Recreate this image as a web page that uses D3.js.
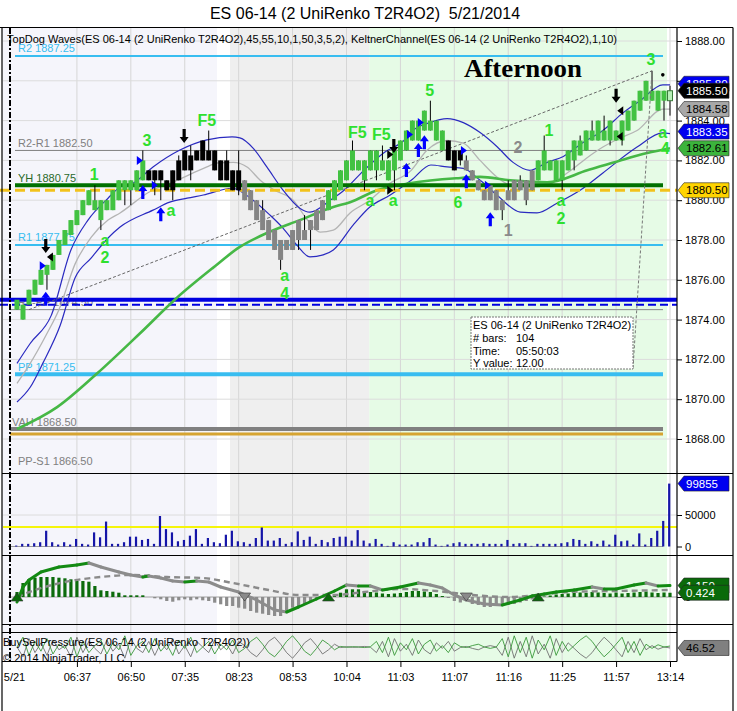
<!DOCTYPE html>
<html><head><meta charset="utf-8">
<script src="https://cdn.jsdelivr.net/npm/d3@7/dist/d3.min.js"></script>
<style>
html,body{margin:0;padding:0;background:#fff;}
svg{display:block;}
text{font-family:"Liberation Sans",Arial,sans-serif;}
</style></head><body>
<svg id="chart" width="737" height="711"></svg>
<script>
// ================= DATA =================
const title = "ES 06-14 (2 UniRenko T2R4O2)  5/21/2014";
const indicatorLabel = "TopDog Waves(ES 06-14 (2 UniRenko T2R4O2),45,55,10,1,50,3,5,2), KeltnerChannel(ES 06-14 (2 UniRenko T2R4O2),1,10)";
const timeLabels = ["5/21","06:37","06:50","07:35","08:23","08:53","10:04","11:03","11:07","11:16","11:25","11:57","13:14"];
const timeLabelBars = [-0.5,10,19,28,37,46,55,64,73,82,91,100,109];
const priceTicks = [1868,1870,1872,1874,1876,1878,1880,1882,1884,1886,1888];
const volumeTicks = [0,50000];

// session shading (bar-index bounds) and fills
const sessionBounds = [-2.5,33.4,35.56,58.8,108.5];
const sessionFill = ["#f5f5fb","#ffffff","#efefef","#e6fbe6"];

// Renko bars
const barOpen  = [1874.5,1874,1874.75,1875.25,1875.75,1876.25,1876.5,1877.25,1877.75,1878.25,1878.75,1879.25,1879.75,1879.5,1879,1879.5,1879.5,1880,1880.5,1880.5,1880.5,1881,
 1881.5,1881.5,1881.5,1881,1881.5,1882,1882.5,1882.25,1882.5,1883,1882.5,1882.5,1882,1882,1881.5,1881.5,
 1881,1880.5,1880,1879.5,1879,1878.5,1878,1878,1878.5,1879,1878.5,1879,1879.5,1880,
 1879.5,1880,1880.5,1881,1881.5,1881.5,1881,1881.5,1881.5,1881.5,1881,1881.5,1882,1882.5,1883,1883,1883.5,1883.5,1883,1882.5,
 1883,1882.5,1882.5,1882,1881.5,1881,1880.5,1880.75,1880.5,1880,1880.5,1881,1881,1881,1881.5,
 1881,1881.5,1881.5,1881,1881,1881.5,1882,1882.25,1882.5,1883,1883,1883,1883,1883,1883,1883.5,1884,1884.5,1885,1885,1884.5,1885,1885];
const barClose = [1875,1874.75,1875.5,1876,1876.5,1876.75,1877.25,1878,1878.5,1879,1879.5,1880,1880.5,1880,1880,1880,1880.5,1881,1881,1881,1881.5,1882,
 1881,1881,1881,1880.5,1880.5,1881,1881.5,1881.5,1882,1882,1882,1881.5,1881,1881,1880.5,1880.5,
 1880,1879.5,1879,1878.5,1878,1877.5,1877,1877.5,1877.5,1878,1878,1878.5,1878.5,1879,
 1880.5,1881,1881.5,1882,1882.5,1882,1882,1882.5,1882.5,1882,1882,1882.5,1883,1883.5,1884,1884,1884.5,1884,1884,1883.5,
 1882,1881.5,1882,1881.5,1881,1880.5,1880,1880,1879.5,1879.5,1880,1880,1880.5,1880,1880.5,
 1882,1882.5,1882,1882,1882,1882.5,1883,1883,1883.5,1883.5,1884,1883.5,1884,1883.5,1884,1884.5,1885,1885.5,1886,1885.5,1885.5,1885.5,1885.5];
const barHigh  = [1875,1874.75,1875.5,1876,1876.5,1876.75,1877.25,1878,1878.5,1879,1879.5,1880,1880.5,1880.75,1880,1880,1880.5,1881,1881,1881,1881.5,1882.5,
 1881.5,1881.5,1881.5,1881,1881.5,1882.25,1882.5,1882.75,1882.5,1883,1883.5,1882.5,1882,1882.5,1881.5,1882.5,
 1881,1880.5,1880,1880,1879,1878.5,1878,1878,1878.5,1879,1879.25,1879,1879.5,1880,
 1880.5,1881,1881.5,1882,1883,1882,1882,1882.5,1882.5,1882.75,1882,1882.5,1883,1883.5,1884,1884,1884.5,1885,1884,1883.5,
 1883,1882.5,1882.5,1882.25,1881.5,1881,1880.5,1880.75,1880.5,1880,1881,1881,1881.25,1881,1881.5,
 1882,1883.25,1882,1882,1882,1882.5,1883,1883.25,1883.5,1884,1884,1884.25,1884,1883.5,1884,1884.5,1885,1885.5,1886,1886.5,1885.5,1885.5,1885.75];
const barLow   = [1874.5,1874,1874.75,1875.25,1875.75,1875.5,1876.5,1877.25,1877.75,1878.25,1878.75,1879.25,1879.75,1879.5,1878.5,1879.5,1879.5,1880,1879.75,1879.75,1880.5,1881,
 1881,1880.25,1880,1880.5,1880,1881,1881.5,1881,1882,1882,1882,1881.5,1881,1881,1880.5,1880.25,
 1880,1879.5,1879,1878.5,1878,1877.5,1876.5,1877.5,1877.5,1877.5,1878,1877.5,1878.5,1879,
 1879.5,1880,1880.5,1881,1881.5,1881.5,1880.5,1881.5,1881,1881.5,1881,1880.5,1882,1882.5,1883,1883,1883.5,1883.5,1883,1882.5,
 1882,1881.5,1881.75,1881.5,1881,1880.5,1880,1880,1879.5,1879,1880,1880,1880.5,1879.75,1880.5,
 1881,1881.5,1881.5,1881,1880.5,1881.5,1881.5,1882.25,1882.5,1883,1883,1883,1882.75,1883,1882.75,1883.5,1884,1884.5,1885,1885,1884.5,1884,1884.25];
const barType = "gggggggggggggggggggggg"+"kkkkkkkkkkkkkkkk"+"ssssssssssssss"+"gggggggggggggggggggg"+"kkk"+"ssssssssssss"+"gggggggggggggggggggggg"+"h";

// Keltner channel (bar index, price)
const kUpperBar = [0,2.2,5.7,9,11.85,15.2,17.2,19.4,22.7,27.2,31.7,35.9,37.2,39.4,41.7,44.4,47.2,48.9,52.3,54.6,57.9,61.3,64.6,66.1,68.9,71.8,74.5,77.3,80.1,82.8,85.6,88.5,91.2,94.5,97.8,101.2,104,107.8,109];
const kUpper    = [1871.8,1872.8,1874.2,1877.5,1879.0,1880.1,1880.66,1880.86,1881.67,1882.52,1883.03,1883.18,1883.13,1882.62,1881.67,1880.51,1879.6,1879.4,1880.0,1880.5,1881.5,1882.4,1883.0,1883.5,1883.9,1884.1,1883.9,1883.4,1882.7,1881.9,1881.5,1881.9,1882.2,1882.9,1883.5,1884.4,1885.0,1885.8,1885.8];
const kMidBar   = [0,2,5,7,9.7,12.4,15.2,17.2,22,26.7,31.7,33.4,36.1,38.4,40.6,43,46.1,48.5,50.6,52.8,55.6,58.9,62,65.8,68.4,71.8,74.5,77.3,80.1,82.3,85.6,88.5,92,95,97.8,100.5,103.5,107.8,109];
const kMid      = [1870.8,1871.7,1873.3,1874.5,1876.8,1878.15,1879.0,1879.36,1880.4,1881.0,1881.67,1881.87,1881.9,1881.67,1881.0,1880.5,1880.0,1879.0,1878.4,1878.5,1879.36,1880.0,1880.8,1881.5,1882.5,1883.0,1882.87,1882.0,1881.17,1880.76,1880.66,1880.76,1881.4,1882.1,1882.67,1883.1,1883.5,1884.58,1884.58];
const kLowerBar = [0,2.2,4.3,7.2,9.7,12.4,15.2,17.2,22.7,25.5,28.4,31.1,35.9,39.4,42.2,44.4,46.7,48.9,51.1,52.8,56.1,58.9,62.3,65.8,69.1,71.8,74.5,77.3,80.1,84,86.8,90.2,94,97.8,103.5,107.8,109];
const kLower    = [1869.86,1870.6,1871.8,1873.7,1876.1,1877.1,1878.1,1878.65,1879.5,1879.9,1880.1,1880.26,1880.6,1880.0,1879.26,1878.6,1877.75,1877.15,1877.25,1877.5,1878.75,1879.66,1880.26,1881.0,1881.77,1881.67,1881.6,1881.0,1880.26,1879.4,1879.36,1879.86,1880.5,1881.37,1882.67,1883.38,1883.35];
// slow moving average (thick green)
const maBar = [0,6.7,13.4,20.5,26.7,32.7,37.2,41.7,47.2,52.8,55.6,60.1,65.8,73.3,77.3,82.3,88.5,95.2,100.7,105.2,109];
const maVal = [1868.5,1869.6,1871.3,1873.3,1875.1,1876.6,1877.65,1878.35,1879.0,1879.66,1879.9,1880.5,1880.86,1881.1,1881.17,1881.0,1880.9,1881.5,1882.0,1882.37,1882.61];

// pivot / reference levels
const levelName  = ["R2 1887.25","R2-R1 1882.50","YH 1880.75","R1 1877.75","R1-PP 1874.50","PP 1871.25","VAH 1868.50","PP-S1 1866.50"];
const levelValue = [1887.25,1882.50,1880.75,1877.75,1874.50,1871.25,1868.50,1866.50];
const levelColor = ["#38bdf0","#808080","#007000","#38bdf0","#808080","#38bdf0","#808080","#808080"];

// volume per bar
const volume = [1500,4200,4200,5200,6800,25000,6800,3100,6800,3100,12000,4200,3100,22400,14600,39600,4200,4200,6800,15600,15600,10400,12000,4200,48400,27600,22400,8300,10400,17200,27600,4200,13500,6800,5200,18700,25000,8300,6800,4200,13500,30200,9400,9400,13500,4200,6800,24000,10400,15600,4200,10400,6800,13500,15600,15600,9400,26000,9400,
 5000,12000,4200,1000,6800,3100,3100,3100,6800,6800,13500,3100,1000,3100,5200,6800,4200,4200,4200,5200,4200,4200,4200,10400,4200,5200,5200,1000,4200,4200,4200,4200,5200,6800,12000,10400,4200,8300,4200,9400,3100,18700,8300,9400,3100,20800,3100,13500,25000,40600,99855];
const volumeAvg = 31000;

// oscillator (TopDog waves) — fast line, signal line, histogram
const oscBar  = [0,1,2,4,7,10,12,14,17,19,21,22,24,26,28,30,32,34,37,40,43,45,47,50,53,55,57,59,61,64,67,69,71,73,75,78,81,84,86,88,90,93,96,98,100,103,105,107,109];
const oscFast = [-0.5,1.0,1.7,2.5,3.0,3.2,3.4,3.0,2.5,2.2,2.0,2.1,1.9,1.6,1.5,1.6,1.5,1.0,0.5,-0.3,-1.3,-1.5,-1.0,-0.2,0.6,1.2,1.1,1.1,0.7,1.0,1.4,1.2,0.9,0.2,-0.3,-0.7,-0.8,-0.3,0.1,0.3,0.5,0.7,1.0,0.8,0.8,1.2,1.4,1.1,1.15];
const sigBar  = [0,3,8,14,19,25,31,36,42,47,53,58,64,70,76,82,87,92,100,109];
const oscSig  = [0,0.7,1.5,2.0,2.2,2.0,1.9,1.4,0.7,0.2,0.2,0.5,0.8,0.6,0.2,0.0,0.2,0.5,0.6,0.7];
const oscHist = [0.5,1.4,1.77,1.93,2.0,2.0,2.0,1.93,1.87,1.77,1.6,1.6,1.53,1.1,0.67,0.6,0.53,0.43,0.17,0.17,0.17,0.17,0,-0.13,-0.23,-0.4,-0.47,-0.33,-0.23,-0.33,-0.23,-0.33,-0.4,-0.57,-0.73,-0.9,-0.9,-1.07,-1.17,-1.4,-1.57,-1.67,-1.8,-1.9,-1.9,-1.4,-1.07,-0.9,-0.73,-0.47,-0.23,-0.07,0.1,0.27,0.43,0.77,0.77,0.77,0.6,
 0.5,0.45,0.35,0.3,0.35,0.4,0.5,0.6,0.6,0.55,0.5,0.3,0.1,-0.1,-0.4,-0.55,-0.4,-0.7,-0.8,-1.0,-1.0,-0.8,-0.9,-0.8,-0.7,-0.55,-0.4,-0.25,-0.1,0.05,0.15,0.25,0.3,0.35,0.4,0.45,0.4,0.5,0.45,0.4,0.35,0.45,0.35,0.4,0.45,0.5,0.55,0.45,0.4,0.45,0.424];
const oscCrossBar = [0,38,52,75,87];
const oscCrossUp  = [true,false,true,false,true];

// BuySellPressure
const buyPressure = [50,85,20,70,35,80,25,60,45,85,15,70,30,55,75,25,65,40,90,20,55,70,30,80,35,60,20,75,45,85,30,50,70,25,60,40,75,30,
 45,70,85,60,30,15,40,70,90,65,35,20,45,75,60,40, 52,49,51,50,48,51,
 70,30,85,20,65,40,80,25,60,75,35,55,30,65, 52,48,55,60,50,45,50,
 80,15,90,30,85,10,75,40,90,20,70,35, 55,75,90,70,40,15,35,60, 85,30,70,20,60,45, 58,50,53.48];
const sellPressure = [50,15,80,30,65,20,75,40,55,15,85,30,70,45,25,75,35,60,10,80,45,30,70,20,65,40,80,25,55,15,70,50,30,75,40,60,25,70,
 55,30,15,40,70,85,60,30,10,35,65,80,55,25,40,60, 48,51,49,50,52,49,
 30,70,15,80,35,60,20,75,40,25,65,45,70,35, 48,52,45,40,50,55,50,
 20,85,10,70,15,90,25,60,10,80,30,65, 45,25,10,30,60,85,65,40, 15,70,30,80,40,55, 42,50,46.52];

// right-axis value flags
const flagValue = [1885.80,1885.50,1884.58,1883.35,1882.61,1880.50];
const flagFill  = ["#0000f0","#000000","#a8a8a8","#0000f0","#3cb43c","#ffd400"];
const flagText  = ["#ffffff","#ffffff","#000000","#ffffff","#000000","#000000"];

// wave annotation labels
const waveText  = ["1","a","2","3","F5","a","a","4","F5","F5","a","a","5","6","1","a","2","3","a","4","2","1"];
const waveBar   = [12.9,14.7,14.7,21.7,31.7,25.7,44.7,44.7,56.8,60.8,58.9,62.8,68.9,73.6,88.8,90.8,90.8,105.8,107.8,108.2,83.6,82];
const wavePrice = [1881.3,1878.0,1877.1,1883.0,1884.0,1879.46,1876.2,1875.3,1883.4,1883.3,1880.0,1880.0,1885.5,1879.86,1883.5,1880.0,1879.1,1887.05,1883.4,1882.6,1882.67,1878.5];
const waveGray  = [false,false,false,false,false,false,false,false,false,false,false,false,false,false,false,false,false,false,false,false,true,true];

// signal markers
const upArrowBar = [4.8,21,24,65,67,68,75,79];
const upArrowTip = [1875.4,1880.76,1879.65,1881.87,1882.87,1883.27,1881.3,1879.4];
const dnArrowBar = [4.8,27.9,62.9,100];
const dnArrowTip = [1877.35,1882.87,1882.37,1884.9];
const blueTriBar = [4.3,20.5,23.0,65.6,67.4,74.6,78.6];
const blueTriVal = [1876.7,1882.0,1880.75,1883.3,1883.9,1882.5,1880.75];
const blkLeftBar = [5.5,100.7,100.6];
const blkLeftVal = [1877.15,1884.5,1883.2];
const blkRightBar = [62.3,62.3];
const blkRightVal = [1882.3,1880.5];

// ruler drawing object
const rulerBars = [2,106];
const rulerPrices = [1874.5,1886.5];
const tooltipLines = [["ES 06-14 (2 UniRenko T2R4O2)",""],["# bars:","104"],["Time:","05:50:03"],["Y value:","12.00"]];

// ================= DRAW =================
const svg = d3.select("#chart");
const PL = 3, PR = 677, PT = 28, PB = 662;
const x  = d3.scaleLinear().domain([0,109]).range([17,670]);
const yP = d3.scaleLinear().domain([1868,1888]).range([439,41]);
const yV = d3.scaleLinear().domain([0,50000]).range([546.5,515]);
const yO = d3.scaleLinear().domain([0,1]).range([597,587]);
const yB = d3.scaleLinear().domain([0,100]).range([661,633]);

// title
svg.append("text").attr("x",365).attr("y",19).attr("text-anchor","middle").attr("font-size",16).attr("fill","#000")
  .style("white-space","pre").text(title);

// session shading
for (let k=0;k<sessionFill.length;k++){
  svg.append("rect").attr("x",x(sessionBounds[k])).attr("y",PT)
    .attr("width",x(sessionBounds[k+1])-x(sessionBounds[k])).attr("height",PB-PT).attr("fill",sessionFill[k]);
}

// gridlines
const grid = svg.append("g");
timeLabelBars.slice(1).forEach(b=>{
  grid.append("line").attr("x1",x(b)).attr("x2",x(b)).attr("y1",PT).attr("y2",PB).attr("stroke","#d6d6d6").attr("stroke-width",1);
});
priceTicks.forEach(p=>{
  grid.append("line").attr("x1",PL).attr("x2",PR).attr("y1",yP(p)).attr("y2",yP(p)).attr("stroke","#dcdcdc").attr("stroke-width",1);
});
grid.append("line").attr("x1",PL).attr("x2",PR).attr("y1",yV(50000)).attr("y2",yV(50000)).attr("stroke","#dcdcdc");

// indicator label
svg.append("text").attr("x",7).attr("y",43).attr("font-size",11).attr("textLength",610).attr("lengthAdjust","spacingAndGlyphs").text(indicatorLabel);

// level labels (beneath bars)
const lvl = svg.append("g");
levelName.forEach((n,k)=>{
  lvl.append("text").attr("x", n.startsWith("VAH")?12:18).attr("y",yP(levelValue[k])-3.5)
    .attr("font-size",11).attr("fill",levelColor[k]==="#007000"?"#2a6a2a":levelColor[k]).text(n);
});

// level lines
const lineSpec = [
  {v:levelValue[0],c:levelColor[0],w:2,x1:15,x2:663},
  {v:levelValue[1],c:levelColor[1],w:1,x1:15,x2:663},
  {v:levelValue[3],c:levelColor[3],w:2,x1:15,x2:663},
  {v:levelValue[4],c:"#888",w:1,x1:10,x2:663},
  {v:levelValue[5],c:levelColor[5],w:4,x1:15,x2:663},
  {v:levelValue[6],c:"#808080",w:4,x1:10,x2:663},
  {v:1868.25,c:"#d6a431",w:3,x1:10,x2:663},
  {v:1875.0,c:"#0000e0",w:4,x1:0,x2:PR},
];
lineSpec.forEach(s=>{
  lvl.append("line").attr("x1",s.x1).attr("x2",s.x2).attr("y1",yP(s.v)).attr("y2",yP(s.v)).attr("stroke",s.c).attr("stroke-width",s.w);
});
lvl.append("line").attr("x1",0).attr("x2",PR).attr("y1",yP(1874.75)).attr("y2",yP(1874.75)).attr("stroke","#0000e0").attr("stroke-width",2).attr("stroke-dasharray","8,4");

// ruler line
svg.append("line").attr("x1",x(rulerBars[0])).attr("y1",yP(rulerPrices[0])).attr("x2",x(rulerBars[1])).attr("y2",yP(rulerPrices[1]))
  .attr("stroke","#666").attr("stroke-width",1).attr("stroke-dasharray","3,2");

// Keltner
const lineK = (bars,vals)=> d3.line().x((d,i)=>x(bars[i])).y(d=>yP(d)).curve(d3.curveMonotoneX)(vals);
svg.append("path").attr("d",lineK(kMidBar,kMid)).attr("fill","none").attr("stroke","#b4b4b4").attr("stroke-width",1.3);
svg.append("path").attr("d",lineK(kUpperBar,kUpper)).attr("fill","none").attr("stroke","#2a2ac0").attr("stroke-width",1.2);
svg.append("path").attr("d",lineK(kLowerBar,kLower)).attr("fill","none").attr("stroke","#2a2ac0").attr("stroke-width",1.2);
svg.append("path").attr("d",lineK(maBar,maVal)).attr("fill","none").attr("stroke","#46b846").attr("stroke-width",2.6);

// YH line and yellow dashed (over bands)
svg.append("line").attr("x1",15).attr("x2",663).attr("y1",yP(levelValue[2])).attr("y2",yP(levelValue[2])).attr("stroke","#007000").attr("stroke-width",4);
svg.append("line").attr("x1",0).attr("x2",PR).attr("y1",yP(1880.5)).attr("y2",yP(1880.5)).attr("stroke","#f2c21b").attr("stroke-width",3).attr("stroke-dasharray","10,5");

// bars
const bars = svg.append("g");
const bw = 5;
barOpen.forEach((o,i)=>{
  const c = barClose[i], t = barType[i];
  const cx = x(i);
  bars.append("line").attr("x1",cx).attr("x2",cx).attr("y1",yP(barHigh[i])).attr("y2",yP(barLow[i])).attr("stroke","#000").attr("stroke-width",1);
  const top = yP(Math.max(o,c)), bot = yP(Math.min(o,c));
  const fill = t==="g"?"#42c242":t==="k"?"#000":t==="s"?"#858585":"#b8f0b8";
  bars.append("rect").attr("x",cx-bw/2).attr("y",top).attr("width",bw).attr("height",Math.max(1,bot-top))
    .attr("fill",fill).attr("stroke",t==="h"?"#3a7a3a":"none").attr("stroke-width",t==="h"?1:0);
});

// markers
const mk = svg.append("g");
upArrowBar.forEach((b,k)=>{
  const cx=x(b), ty=yP(upArrowTip[k]);
  mk.append("path").attr("d",`M${cx},${ty} L${cx+4.5},${ty+6} L${cx+1.6},${ty+6} L${cx+1.6},${ty+14} L${cx-1.6},${ty+14} L${cx-1.6},${ty+6} L${cx-4.5},${ty+6} Z`).attr("fill","#0000ff");
});
dnArrowBar.forEach((b,k)=>{
  const cx=x(b), ty=yP(dnArrowTip[k]);
  mk.append("path").attr("d",`M${cx},${ty} L${cx+4.5},${ty-6} L${cx+1.6},${ty-6} L${cx+1.6},${ty-14} L${cx-1.6},${ty-14} L${cx-1.6},${ty-6} L${cx-4.5},${ty-6} Z`).attr("fill","#000");
});
blueTriBar.forEach((b,k)=>{
  const cx=x(b), cy=yP(blueTriVal[k]);
  mk.append("path").attr("d",`M${cx-3},${cy-4.5} L${cx+3},${cy} L${cx-3},${cy+4.5} Z`).attr("fill","#0000ff");
});
blkLeftBar.forEach((b,k)=>{
  const cx=x(b), cy=yP(blkLeftVal[k]);
  mk.append("path").attr("d",`M${cx+3},${cy-4.5} L${cx-3},${cy} L${cx+3},${cy+4.5} Z`).attr("fill","#000");
});
blkRightBar.forEach((b,k)=>{
  const cx=x(b), cy=yP(blkRightVal[k]);
  mk.append("path").attr("d",`M${cx-3},${cy-4.5} L${cx+3},${cy} L${cx-3},${cy+4.5} Z`).attr("fill","#000");
});
mk.append("circle").attr("cx",x(107.8)).attr("cy",yP(1886.3)).attr("r",1.8).attr("fill","#000");

// wave labels
waveText.forEach((t,k)=>{
  svg.append("text").attr("x",x(waveBar[k])).attr("y",yP(wavePrice[k])).attr("text-anchor","middle").attr("dominant-baseline","central")
    .attr("font-size",16).attr("font-weight","bold").attr("fill",waveGray[k]?"#8a8a8a":"#2fe02f").text(t);
});

// Afternoon
svg.append("text").attr("x",464).attr("y",77).style("font-family","'Liberation Serif','Times New Roman',serif").attr("font-weight","bold")
  .attr("font-size",25).attr("textLength",118).attr("lengthAdjust","spacingAndGlyphs").text("Afternoon");

// tooltip connection + box
svg.append("line").attr("x1",x(rulerBars[1])).attr("y1",yP(rulerPrices[1])).attr("x2",633).attr("y2",368).attr("stroke","#777").attr("stroke-dasharray","3,2");
svg.append("rect").attr("x",471).attr("y",317).attr("width",162).attr("height",52).attr("fill","#fff").attr("stroke","#777").attr("stroke-dasharray","2,1");
tooltipLines.forEach((l,k)=>{
  svg.append("text").attr("x",473).attr("y",329+k*12.8).attr("font-size",11).text(l[0]);
  if(l[1]) svg.append("text").attr("x",516).attr("y",329+k*12.8).attr("font-size",11).text(l[1]);
});

// ===== volume panel =====
svg.append("line").attr("x1",8).attr("x2",663).attr("y1",yV(0)).attr("y2",yV(0)).attr("stroke","#999").attr("stroke-width",1);
svg.append("line").attr("x1",PL).attr("x2",PR).attr("y1",yV(volumeAvg)).attr("y2",yV(volumeAvg)).attr("stroke","#f5f50a").attr("stroke-width",2);
volume.forEach((v,i)=>{
  svg.append("rect").attr("x",x(i)-1.9).attr("y",yV(v)).attr("width",2.2).attr("height",yV(0)-yV(v)).attr("fill","#1515a8");
});

// ===== oscillator panel =====
svg.append("line").attr("x1",8).attr("x2",PR).attr("y1",yO(0)).attr("y2",yO(0)).attr("stroke","#a0a0a0").attr("stroke-width",1);
oscHist.forEach((v,i)=>{
  const y0=yO(0), y1=yO(v);
  svg.append("rect").attr("x",x(i)-1.6).attr("y",Math.min(y0,y1)).attr("width",3.2).attr("height",Math.abs(y1-y0))
    .attr("fill",v>=0?"#0c6b0c":"#8c8c8c");
});
svg.append("path").attr("d",d3.line().x((d,i)=>x(sigBar[i])).y(d=>yO(d)).curve(d3.curveMonotoneX)(oscSig))
  .attr("fill","none").attr("stroke","#8a8a8a").attr("stroke-width",2.4).attr("stroke-dasharray","6,4");
for(let k=0;k<oscFast.length-1;k++){
  svg.append("line").attr("x1",x(oscBar[k])).attr("y1",yO(oscFast[k])).attr("x2",x(oscBar[k+1])).attr("y2",yO(oscFast[k+1]))
    .attr("stroke",oscFast[k+1]>=oscFast[k]?"#138a13":"#8c8c8c").attr("stroke-width",3).attr("stroke-linecap","round");
}
oscCrossBar.forEach((b,k)=>{
  const cx=x(b), cy=yO(0);
  const d = oscCrossUp[k]? `M${cx-6},${cy+4} L${cx},${cy-4} L${cx+6},${cy+4} Z` : `M${cx-6},${cy-4} L${cx},${cy+4} L${cx+6},${cy-4} Z`;
  svg.append("path").attr("d",d).attr("fill",oscCrossUp[k]?"#0a6a0a":"#8a8a8a").attr("stroke","#333").attr("stroke-width",0.6);
});

// ===== pressure panel =====
const lineB = arr => d3.line().x((d,i)=>x(i)).y(d=>yB(d))(arr);
svg.append("path").attr("d",lineB(sellPressure)).attr("fill","none").attr("stroke","#707070").attr("stroke-width",0.9);
svg.append("path").attr("d",lineB(buyPressure)).attr("fill","none").attr("stroke","#3a983a").attr("stroke-width",0.9);
svg.append("text").attr("x",3).attr("y",646).attr("font-size",11).text("BuySellPressure(ES 06-14 (2 UniRenko T2R4O2))");
svg.append("text").attr("x",3).attr("y",662).attr("font-size",11).text("\u00A9 2014 NinjaTrader, LLC");

// ===== frame & separators =====
const fr = svg.append("g").attr("stroke","#000").attr("stroke-width",1.2);
fr.append("line").attr("x1",0).attr("x2",733).attr("y1",27.5).attr("y2",27.5);
fr.append("line").attr("x1",2).attr("x2",2).attr("y1",27.5).attr("y2",711);
fr.append("line").attr("x1",733).attr("x2",733).attr("y1",27.5).attr("y2",711);
[473.5,555.5,624.5].forEach(y=>fr.append("line").attr("x1",2).attr("x2",733).attr("y1",y).attr("y2",y));
[632.5,661.5].forEach(y=>fr.append("line").attr("x1",2).attr("x2",PR).attr("y1",y).attr("y2",y));
fr.append("line").attr("x1",PR).attr("x2",PR).attr("y1",27.5).attr("y2",661.5);
// session start dash-dot
svg.append("line").attr("x1",10).attr("x2",10).attr("y1",PT).attr("y2",PB).attr("stroke","#000").attr("stroke-width",2).attr("stroke-dasharray","6,2,2,2");

// ===== axes =====
const axP = svg.append("g").attr("transform",`translate(${PR},0)`)
  .call(d3.axisRight(yP).tickValues(priceTicks).tickFormat(d3.format(".2f")).tickSize(5).tickPadding(3));
const axV = svg.append("g").attr("transform",`translate(${PR},0)`)
  .call(d3.axisRight(yV).tickValues(volumeTicks).tickFormat(d3.format("d")).tickSize(5).tickPadding(3));
const axO = svg.append("g").attr("transform",`translate(${PR},0)`)
  .call(d3.axisRight(yO).tickValues([0]).tickFormat(d3.format("d")).tickSize(5).tickPadding(3));
const axX = svg.append("g").attr("transform",`translate(0,${PB})`)
  .call(d3.axisBottom(x).tickValues(timeLabelBars).tickFormat((d,i)=>timeLabels[i]).tickSize(5).tickPadding(6));
[axP,axV,axO,axX].forEach(a=>{
  a.select(".domain").remove();
  a.selectAll("text").attr("font-size",11).attr("fill","#000");
  a.selectAll("line").attr("stroke","#000");
});
axX.selectAll(".tick").filter((d,i)=>i===0).select("line").remove();

// flags
function flag(yc, fill, tcol, txt){
  const x0=678, x1=729, h=7.5;
  svg.append("path").attr("d",`M${x0},${yc} L${x0+6},${yc-h} L${x1},${yc-h} L${x1},${yc+h} L${x0+6},${yc+h} Z`)
    .attr("fill",fill).attr("stroke","#222").attr("stroke-width",0.6);
  svg.append("text").attr("x",686).attr("y",yc+4).attr("font-size",11.5).attr("fill",tcol).text(txt);
}
flagValue.forEach((v,k)=>{
  const shift = k===0 ? -1 : (k===3 ? -2 : 0);
  flag(yP(v)+shift, flagFill[k], flagText[k], d3.format(".2f")(v));
});
flag(yV(volume[volume.length-1]), "#0000f0", "#fff", String(volume[volume.length-1]));
flag(yO(oscFast[oscFast.length-1]), "#0a6a0a", "#fff", d3.format(".3f")(oscFast[oscFast.length-1]));
flag(yO(oscHist[oscHist.length-1]), "#0a6a0a", "#fff", d3.format(".3f")(oscHist[oscHist.length-1]));
flag(yB(sellPressure[sellPressure.length-1]), "#808080", "#000", d3.format(".2f")(sellPressure[sellPressure.length-1]));
</script>
</body></html>
